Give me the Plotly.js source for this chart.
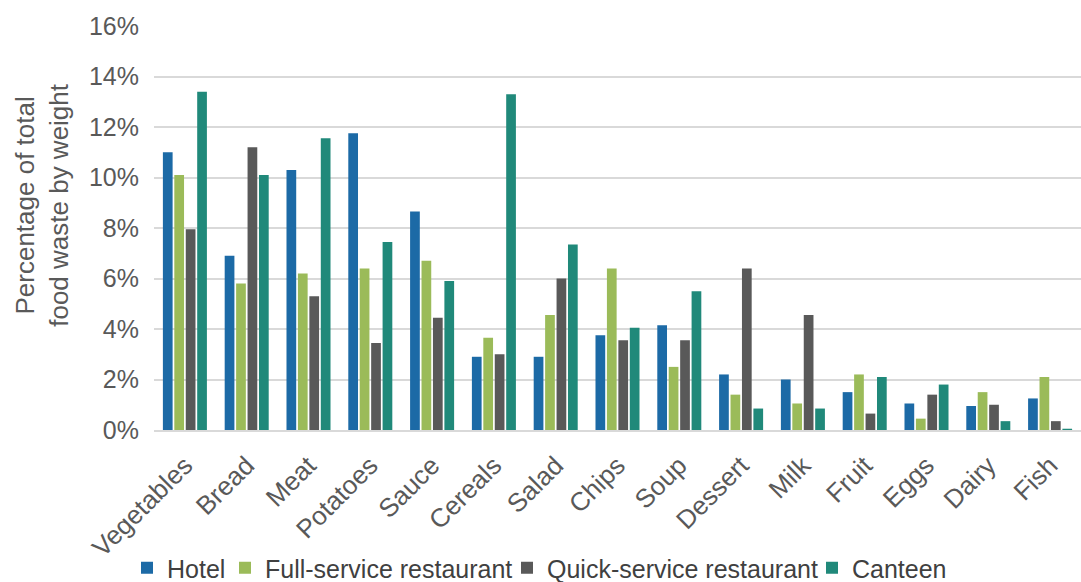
<!DOCTYPE html>
<html><head><meta charset="utf-8">
<script src="https://cdn.plot.ly/plotly-3.0.1.min.js"></script>
<style>html,body{margin:0;padding:0;background:#fff;}#chart{width:1081px;height:582px;}</style>
</head><body><div id="chart"></div>
<script>
const categories = ["Vegetables","Bread","Meat","Potatoes","Sauce","Cereals","Salad","Chips","Soup","Dessert","Milk","Fruit","Eggs","Dairy","Fish"];
const hotel = [11.0, 6.9, 10.3, 11.75, 8.65, 2.9, 2.9, 3.75, 4.15, 2.2, 2.0, 1.5, 1.05, 0.95, 1.25];
const fullService = [10.1, 5.8, 6.2, 6.4, 6.7, 3.65, 4.55, 6.4, 2.5, 1.4, 1.05, 2.2, 0.45, 1.5, 2.1];
const quickService = [7.95, 11.2, 5.3, 3.45, 4.45, 3.0, 6.0, 3.55, 3.55, 6.4, 4.55, 0.65, 1.4, 1.0, 0.35];
const canteen = [13.4, 10.1, 11.55, 7.45, 5.9, 13.3, 7.35, 4.05, 5.5, 0.85, 0.85, 2.1, 1.8, 0.35, 0.05];
const seriesNames = ["Hotel","Full-service restaurant","Quick-service restaurant","Canteen"];
const colors = ["#1c6aa6","#9bbb59","#595959","#20897a"];
const yTicks = [0,2,4,6,8,10,12,14,16];
const yTickText = yTicks.map(v => v + "%");
const yTitle = "Percentage of total<br>food waste by weight";

const font = "Liberation Sans, Arial, sans-serif";
const legendIds = ["legend","legend2","legend3","legend4"];
const legendLeft = [127, 225, 507, 812];
const data = [hotel, fullService, quickService, canteen].map((vals, i) => ({
  type: "bar", x: categories, y: vals, name: seriesNames[i],
  marker: {color: colors[i]}, legend: legendIds[i]
}));
const layout = {
  width: 1081, height: 582,
  margin: {l: 154, r: 0, t: 26, b: 152},
  paper_bgcolor: "#fff", plot_bgcolor: "#fff",
  barmode: "group", bargap: 0.26, bargroupgap: 0.15,
  font: {family: font, color: "#595959", size: 25},
  xaxis: {tickangle: -45, tickfont: {size: 26, color: "#595959"}, showgrid: false, zeroline: false,
          showline: true, linecolor: "#d9d9d9", linewidth: 2, ticks: "", ticklabelstandoff: 8},
  yaxis: {range: [0, 16], tickvals: yTicks, ticktext: yTickText, showgrid: true, gridcolor: "#d9d9d9", gridwidth: 2,
          zeroline: false, tickfont: {size: 25, color: "#595959"}, ticks: "", ticklen: 0, automargin: false,
          ticklabelstandoff: 14},
  annotations: [{text: yTitle, xref: "paper", yref: "paper", x: -0.121, y: 0.557, xanchor: "center", yanchor: "middle",
                 textangle: -90, showarrow: false, font: {size: 26, color: "#595959"}}],
  showlegend: true
};
legendIds.forEach((id, i) => {
  layout[id] = {orientation: "h", xref: "container", yref: "container", x: legendLeft[i] / 1081, xanchor: "left",
                y: 1 - 568 / 582, yanchor: "middle", font: {size: 25, color: "#404040"}, itemwidth: 30,
                bgcolor: "rgba(0,0,0,0)"};
});
Plotly.newPlot("chart", data, layout, {displayModeBar: false, staticPlot: true});
</script></body></html>
